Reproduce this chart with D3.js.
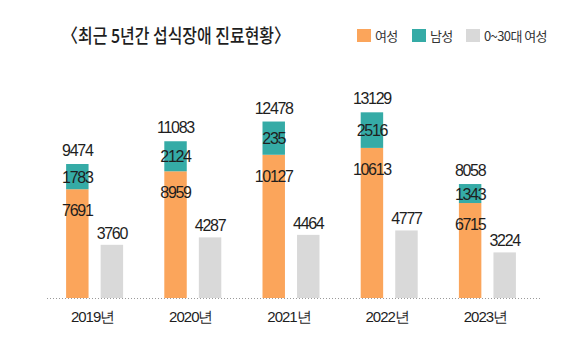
<!DOCTYPE html>
<html><head><meta charset="utf-8">
<script src="https://cdn.jsdelivr.net/npm/d3@7"></script>
<style>body{margin:0;background:#fff}svg{display:block}</style>
</head><body><svg id="c" width="587" height="340"></svg>
<script>
const years = ["2019년","2020년","2021년","2022년","2023년"];
const female = [7691, 8959, 10127, 10613, 6715];
const male = [1783, 2124, 2351, 2516, 1343];
const maleLabels = ["1783","2124","235","2516","1343"];
const young = [3760, 4287, 4464, 4777, 3224];
const legendLabels = ["여성","남성","0~30대 여성"];
const title = "〈최근 5년간 섭식장애 진료현황〉";

const C = {f:"#FBA55B", m:"#35ABA6", y:"#D9D9D9", text:"#1e1e1e"};
const svg = d3.select("#c");
const numFont = "'Liberation Sans', Arial, sans-serif";
const krFont = "'Noto Sans CJK KR', 'Noto Sans', sans-serif";

svg.append("text").attr("x",62).attr("y",43).attr("font-family",krFont).attr("font-size",19)
  .attr("font-weight",500)
  .attr("fill",C.text).attr("textLength",228).attr("lengthAdjust","spacingAndGlyphs").text(title);

// legend
const leg = [{c:C.f,x:357},{c:C.m,x:412},{c:C.y,x:466}];
leg.forEach((d,i)=>{
  svg.append("rect").attr("x",d.x).attr("y",29).attr("width",14).attr("height",13).attr("fill",d.c);
  svg.append("text").attr("x",d.x+18).attr("y",41).attr("font-family",krFont).attr("font-size",13)
    .attr("letter-spacing","-0.6px").attr("fill","#333").text(legendLabels[i]);
});

const x = d3.scaleBand().domain(years).range([45.5,536.5]).padding(0);
const sub = d3.scaleBand().domain(["f","y"]).range([-28.5,28.5]).paddingInner(0.35);
const y = d3.scaleLinear().domain([0,14000]).range([298,100]);
const bw = sub.bandwidth();
const cx = yr => x(yr)+x.bandwidth()/2;

// baseline
svg.append("line").attr("x1",47).attr("x2",541).attr("y1",298.5).attr("y2",298.5)
  .attr("stroke","#9a9a9a").attr("stroke-width",1).attr("stroke-dasharray","1,2");

const g = svg.append("g");
years.forEach((yr,i)=>{
  const xf = cx(yr)+sub("f"), xy = cx(yr)+sub("y");
  const tot = female[i]+male[i];
  g.append("rect").attr("x",xf).attr("width",bw).attr("y",y(female[i])).attr("height",y(0)-y(female[i])).attr("fill",C.f);
  g.append("rect").attr("x",xf).attr("width",bw).attr("y",y(tot)).attr("height",y(female[i])-y(tot)).attr("fill",C.m);
  g.append("rect").attr("x",xy).attr("width",bw).attr("y",y(young[i])).attr("height",y(0)-y(young[i])).attr("fill",C.y);
  const t = (xx,yy,s)=>g.append("text").attr("x",xx).attr("y",yy).attr("text-anchor","middle")
    .attr("font-family",numFont).attr("font-size",16).attr("letter-spacing","-1.3px").attr("fill",C.text).text(s);
  t(xf+bw/2, y(tot)-8, d3.format("d")(tot));
  t(xf+bw/2, (y(tot)+y(female[i]))/2+6, maleLabels[i]);
  t(xf+bw/2, y(female[i])+27, d3.format("d")(female[i]));
  t(xy+bw/2, y(young[i])-6, d3.format("d")(young[i]));
  g.append("text").attr("x",cx(yr)-2).attr("y",322).attr("text-anchor","middle")
    .attr("font-family",numFont).attr("font-size",15).attr("letter-spacing","-1px").attr("fill",C.text).text(yr);
});
</script></body></html>
